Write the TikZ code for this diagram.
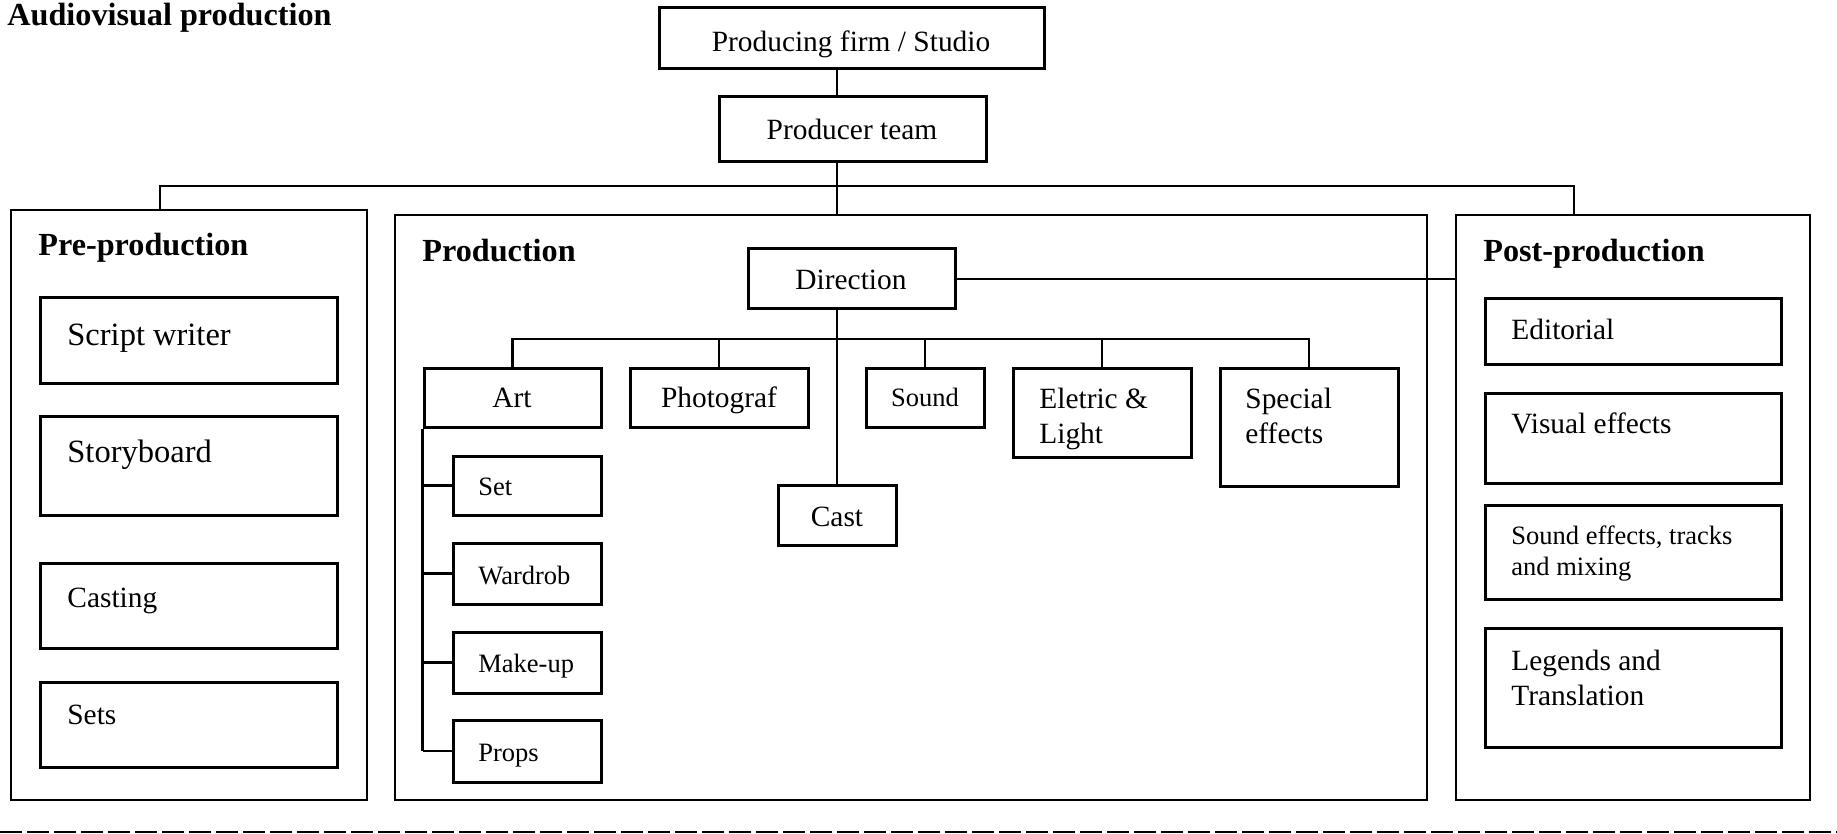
\documentclass[tikz,border=0pt]{standalone}
\usepackage{fontspec}
\setmainfont{Liberation Serif}
\usetikzlibrary{fit}
\begin{document}
\begin{tikzpicture}[x=0.5pt,y=-0.5pt,
  bx/.style={draw, line width=1.5pt, inner sep=0pt},
  sec/.style={draw, line width=1.25pt, inner sep=0pt},
  cn/.style={line width=1.2pt},
  hd/.style={font=\fontsize{16.1}{19}\selectfont\bfseries, inner sep=0pt},
  tl/.style={font=\fontsize{16.25}{19}\selectfont, inner sep=0pt},
  tm/.style={font=\fontsize{14.7}{17.3}\selectfont, inner sep=0pt},
  ts/.style={font=\fontsize{13.25}{15.5}\selectfont, inner sep=0pt},
]
\useasboundingbox (0,0) rectangle (1837,834);

% title
\node[hd, anchor=base west] (title) at (7,26) {Audiovisual production};

% top boxes
\node[bx, fit={(659,8) (1044,69)}] (firm) {};
\node[tm, anchor=base] (firmt) at (851,52) {Producing firm / Studio};
\node[bx, fit={(719,97) (986,162)}] (producer) {};
\node[tm, anchor=base] (producert) at (852,140) {Producer team};

% sections
\node[sec, fit={(11,210) (367,800)}] (pre) {};
\node[sec, fit={(395,215) (1427,800)}] (prod) {};
\node[sec, fit={(1456,215) (1810,800)}] (post) {};
\node[hd, anchor=base west] (pret) at (38,256) {Pre-production};
\node[hd, anchor=base west] (prodt) at (422,262) {Production};
\node[hd, anchor=base west] (postt) at (1483,262) {Post-production};

% pre-production
\node[bx, fit={(40,298) (337,383)}] (script) {};
\node[tl, anchor=base west] (scriptt) at (67,345) {Script writer};
\node[bx, fit={(40,416) (337,515)}] (story) {};
\node[tl, anchor=base west] (storyt) at (67,462) {Storyboard};
\node[bx, fit={(40,563) (337,648)}] (casting) {};
\node[tm, anchor=base west] (castingt) at (67,607) {Casting};
\node[bx, fit={(40,682) (337,767)}] (sets) {};
\node[tm, anchor=base west] (setst) at (67,724) {Sets};

% post-production
\node[bx, fit={(1485,299) (1781,364)}] (editorial) {};
\node[tm, anchor=base west] (editorialt) at (1511,340) {Editorial};
\node[bx, fit={(1485,393) (1781,483)}] (visual) {};
\node[tm, anchor=base west] (visualt) at (1511,433) {Visual effects};
\node[bx, fit={(1485,505) (1781,599)}] (sfx) {};
\node[ts, anchor=base west, align=left] (sfxt) at (1511,575) {Sound effects, tracks\\and mixing};
\node[bx, fit={(1485,628) (1781,747)}] (legends) {};
\node[tm, anchor=base west, align=left] (legendst) at (1511,705) {Legends and\\Translation};

% production
\node[bx, fit={(748,249) (955,309)}] (direction) {};
\node[tm, anchor=base] (directiont) at (851,290) {Direction};
\node[bx, fit={(424,368) (601,427)}] (art) {};
\node[tm, anchor=base] (artt) at (512,408) {Art};
\node[bx, fit={(630,368) (808,427)}] (photo) {};
\node[tm, anchor=base] (photot) at (719,408) {Photograf};
\node[bx, fit={(866,368) (984,427)}] (sound) {};
\node[ts, anchor=base] (soundt) at (925,406) {Sound};
\node[bx, fit={(1013,368) (1191,457)}] (elec) {};
\node[tm, anchor=base west, align=left] (elect) at (1039,443) {Eletric \&\\Light};
\node[bx, fit={(1220,368) (1398,486)}] (special) {};
\node[tm, anchor=base west, align=left] (specialt) at (1245,443) {Special\\effects};
\node[bx, fit={(778,485) (896,545)}] (cast) {};
\node[tm, anchor=base] (castt) at (837,526) {Cast};
\node[bx, fit={(453,456) (601,515)}] (set) {};
\node[ts, anchor=base west] (sett) at (478,495) {Set};
\node[bx, fit={(453,543) (601,604)}] (wardrob) {};
\node[ts, anchor=base west] (wardrobt) at (478,584) {Wardrob};
\node[bx, fit={(453,632) (601,693)}] (makeup) {};
\node[ts, anchor=base west] (makeupt) at (478,672) {Make-up};
\node[bx, fit={(453,720) (601,782)}] (props) {};
\node[ts, anchor=base west] (propst) at (478,761) {Props};

% connectors
\coordinate (tx) at (837,0);
\coordinate (busL) at (160,186);
\coordinate (busR) at (1574,186);
\coordinate (sb) at (0,339);
\draw[cn] (firm.south -| tx) -- (producer.north -| tx);
\draw[cn] (producer.south -| tx) -- (prod.north -| tx);
\draw[cn] (pre.north -| busL) -- (busL) -- (busR) -- (post.north -| busR);
\draw[cn] (direction.east) -- (post.west |- direction.east);
\draw[cn] (direction.south -| tx) -- (cast.north -| tx);
\draw[cn] (art.north) -- (art.north |- sb) -- (special.north |- sb) -- (special.north);
\foreach \n in {photo,sound,elec} \draw[cn] (\n.north) -- (\n.north |- sb);
\draw[cn] (art.south west) -- (art.south west |- props.west);
\foreach \n in {set,wardrob,makeup,props} \draw[cn] (art.south west |- \n.west) -- (\n.west);

% bottom dashed rule
\coordinate (dl) at (0,832);
\coordinate (dr) at (1837,832);
\draw[line width=1pt, dash pattern=on 10.8pt off 2.7pt] (dl) -- (dr);
\end{tikzpicture}
\end{document}
